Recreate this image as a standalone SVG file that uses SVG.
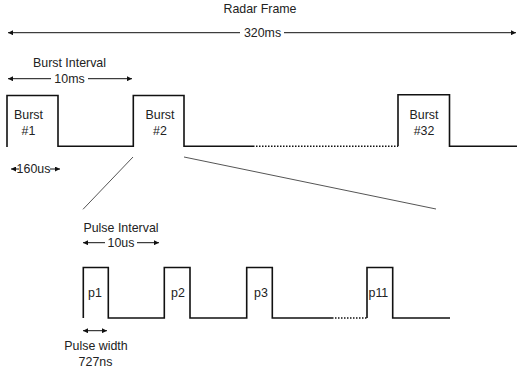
<svg xmlns="http://www.w3.org/2000/svg" width="517" height="375" viewBox="0 0 517 375">
<style>
text{font-family:"Liberation Sans",Arial,sans-serif;font-size:12.4px;fill:#222;}
.c{text-anchor:middle;}
.w{fill:none;stroke:#111;stroke-width:1.6;}
.d{fill:none;stroke:#111;stroke-width:1.4;stroke-dasharray:1.5 1.5;}
.a{fill:none;stroke:#111;stroke-width:1;}
.z{fill:none;stroke:#555;stroke-width:1;}
.ah{fill:#111;}
</style>
<defs>
<marker id="arr" viewBox="0 0 10 10" refX="10" refY="5" markerWidth="8" markerHeight="5" markerUnits="userSpaceOnUse" orient="auto-start-reverse">
<path d="M0,0 L10,5 L0,10 Z" class="ah"/>
</marker>
</defs>
<g id="connectors">
<line class="a" x1="8" y1="32.7" x2="240" y2="32.7" marker-start="url(#arr)"/>
<line class="a" x1="284" y1="32.7" x2="516" y2="32.7" marker-end="url(#arr)"/>
<line class="a" x1="8" y1="78.7" x2="51" y2="78.7" marker-start="url(#arr)"/>
<line class="a" x1="88" y1="78.7" x2="132" y2="78.7" marker-end="url(#arr)"/>
<line class="a" x1="11" y1="169" x2="19" y2="169" marker-start="url(#arr)"/>
<line class="a" x1="50" y1="169" x2="60" y2="169" marker-end="url(#arr)"/>
<line class="a" x1="83" y1="242.7" x2="105" y2="242.7" marker-start="url(#arr)"/>
<line class="a" x1="137" y1="242.7" x2="159" y2="242.7" marker-end="url(#arr)"/>
<line class="a" x1="83" y1="330.7" x2="107" y2="330.7" marker-start="url(#arr)" marker-end="url(#arr)"/>
<line class="z" x1="133" y1="157" x2="83" y2="209.3"/>
<line class="z" x1="184" y1="157" x2="436" y2="209"/>
</g>
<g id="radar-frame">
<text class="c" x="260" y="12.5">Radar Frame</text>
<text class="c" x="262.5" y="36.8">320ms</text>
</g>
<g id="burst-interval">
<text class="c" x="69.5" y="67">Burst Interval</text>
<text class="c" x="69.5" y="82.5">10ms</text>
</g>
<g id="burst-waveform">
<polyline class="w" points="7,147 7,95.5 58,95.5 58,146.3 133.3,146.3 133.3,95.5 184,95.5 184,146.3 253,146.3"/>
<line class="d" x1="253" y1="146.3" x2="398" y2="146.3"/>
<polyline class="w" points="398,146.3 398,94.8 449.5,94.8 449.5,146.3 517,146.3"/>
</g>
<g id="burst1">
<text class="c" x="28.5" y="119">Burst</text>
<text class="c" x="28.5" y="135">#1</text>
</g>
<g id="burst2">
<text class="c" x="160" y="119">Burst</text>
<text class="c" x="160" y="135">#2</text>
</g>
<g id="burst32">
<text class="c" x="424" y="119">Burst</text>
<text class="c" x="424" y="135">#32</text>
</g>
<g id="burst-width">
<text class="c" x="33.5" y="173">160us</text>
</g>
<g id="pulse-interval">
<text class="c" x="121" y="231.7">Pulse Interval</text>
<text class="c" x="121" y="247">10us</text>
</g>
<g id="pulse-waveform">
<polyline class="w" points="83.3,318 83.3,267.5 108.3,267.5 108.3,318 164.3,318 164.3,267.5 190,267.5 190,318 246.7,318 246.7,267.5 272.3,267.5 272.3,318 332,318"/>
<line class="d" x1="332" y1="318" x2="367" y2="318"/>
<polyline class="w" points="367,318 367,267.5 392.7,267.5 392.7,318 450,318"/>
</g>
<g id="p1"><text x="88" y="297">p1</text></g>
<g id="p2"><text x="171" y="297">p2</text></g>
<g id="p3"><text x="254" y="297">p3</text></g>
<g id="p11"><text x="368.5" y="297">p11</text></g>
<g id="pulse-width">
<text class="c" x="96" y="349.5">Pulse width</text>
<text class="c" x="95.5" y="365.7">727ns</text>
</g>
</svg>
